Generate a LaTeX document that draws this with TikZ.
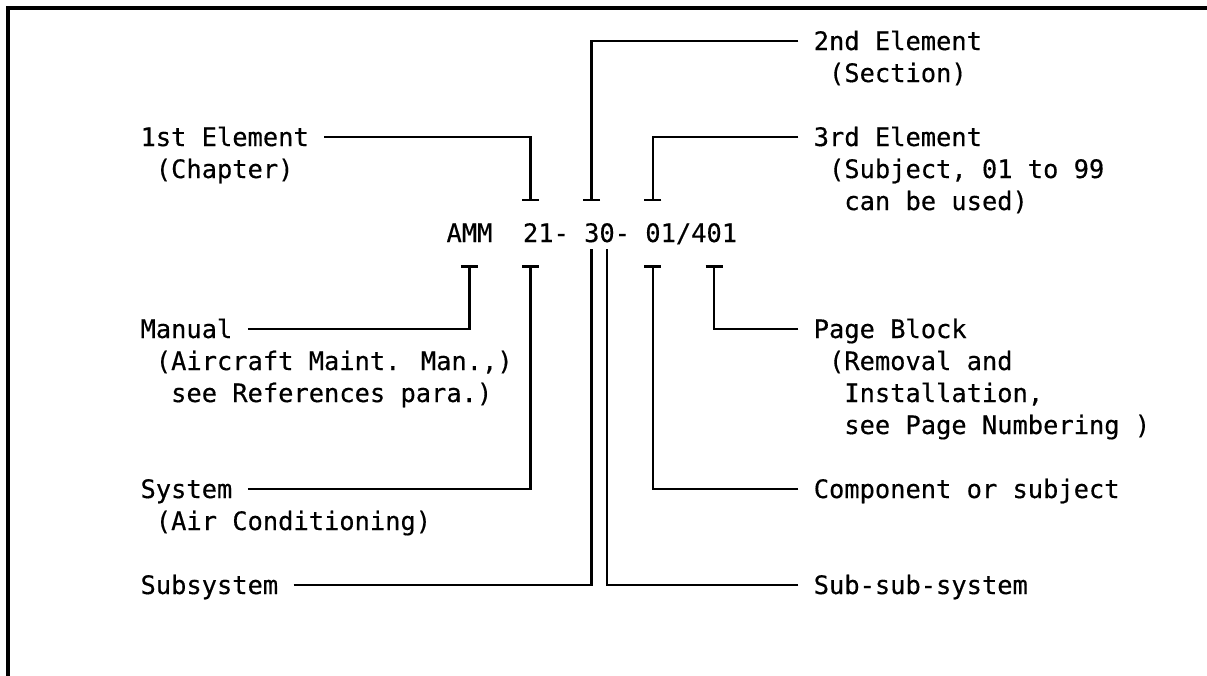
\documentclass[tikz,border=0pt]{standalone}
\usepackage{fontspec}
\newfontfamily\diagfont[FakeBold=0.4]{DejaVu Sans Mono}
\usetikzlibrary{arrows.meta}
\begin{document}
\begin{tikzpicture}[x=1pt, y=-1pt,
  lbl/.style={font={\diagfont\fontsize{25.4pt}{32pt}\selectfont},
              inner sep=0pt, text height=22pt, text depth=4pt, anchor=west},
  lead/.style={line width=2.5pt},
  tee/.style={lead, -{Bar[width=17pt, line width=2.5pt]}},
  frame/.style={line width=3.2pt}]
\useasboundingbox (0,0) rectangle (1207,675);

% open frame: top and left edges only
\draw[frame] (8,690) -- (8,8) -- (1220,8);

% the reference code itself
\node[lbl] (code) at (446.35,233) {AMM~~21-~30-~01/401};

% end points of the leaders under and over the code digits
\coordinate (t1st)  at (454+15.3*5, 201);
\coordinate (t2nd)  at (454+15.3*9, 201);
\coordinate (t3rd)  at (454+15.3*13,201);
\coordinate (bMan)  at (454+15.3*1, 265);
\coordinate (bSys)  at (454+15.3*5, 265);
\coordinate (bSub)  at (454+15.3*9, 249);
\coordinate (bSS)   at (454+15.3*10,249);
\coordinate (bComp) at (454+15.3*13,265);
\coordinate (bPage) at (454+15.3*17,265);

% labels, left column
\node[lbl] (l1st)  at (140.35,137) {1st Element};
\node[lbl] (l1stb) at (155.65,169) {(Chapter)};
\node[lbl] (lMan)  at (140.35,329) {Manual};
\node[lbl] (lManb) at (155.65,361) {(Aircraft Maint. Man.,)};
\node[lbl] (lManc) at (170.95,393) {see References para.)};
\node[lbl] (lSys)  at (140.35,489) {System};
\node[lbl] (lSysb) at (155.65,521) {(Air Conditioning)};
\node[lbl] (lSub)  at (140.35,585) {Subsystem};

% labels, right column
\node[lbl] (l2nd)   at (813.55,41)  {2nd Element};
\node[lbl] (l2ndb)  at (828.85,73)  {(Section)};
\node[lbl] (l3rd)   at (813.55,137) {3rd Element};
\node[lbl] (l3rdb)  at (828.85,169) {(Subject, 01 to 99};
\node[lbl] (l3rdc)  at (844.15,201) {can be used)};
\node[lbl] (lPage)  at (813.55,329) {Page Block};
\node[lbl] (lPageb) at (828.85,361) {(Removal and};
\node[lbl] (lPagec) at (844.15,393) {Installation,};
\node[lbl] (lPaged) at (844.15,425) {see Page Numbering )};
\node[lbl] (lComp)  at (813.55,489) {Component or subject};
\node[lbl] (lSS)    at (813.55,585) {Sub-sub-system};

% leaders from the labels to the code
\draw[tee]  ([xshift=15.3pt]l1st.east)  -| (t1st);
\draw[tee]  ([xshift=-15.3pt]l2nd.west) -| (t2nd);
\draw[tee]  ([xshift=-15.3pt]l3rd.west) -| (t3rd);
\draw[tee]  ([xshift=15.3pt]lMan.east)  -| (bMan);
\draw[tee]  ([xshift=15.3pt]lSys.east)  -| (bSys);
\draw[lead] ([xshift=15.3pt]lSub.east)  -| (bSub);
\draw[lead] ([xshift=-15.3pt]lSS.west)  -| (bSS);
\draw[tee]  ([xshift=-15.3pt]lComp.west) -| (bComp);
\draw[tee]  ([xshift=-15.3pt]lPage.west) -| (bPage);
\end{tikzpicture}
\end{document}
